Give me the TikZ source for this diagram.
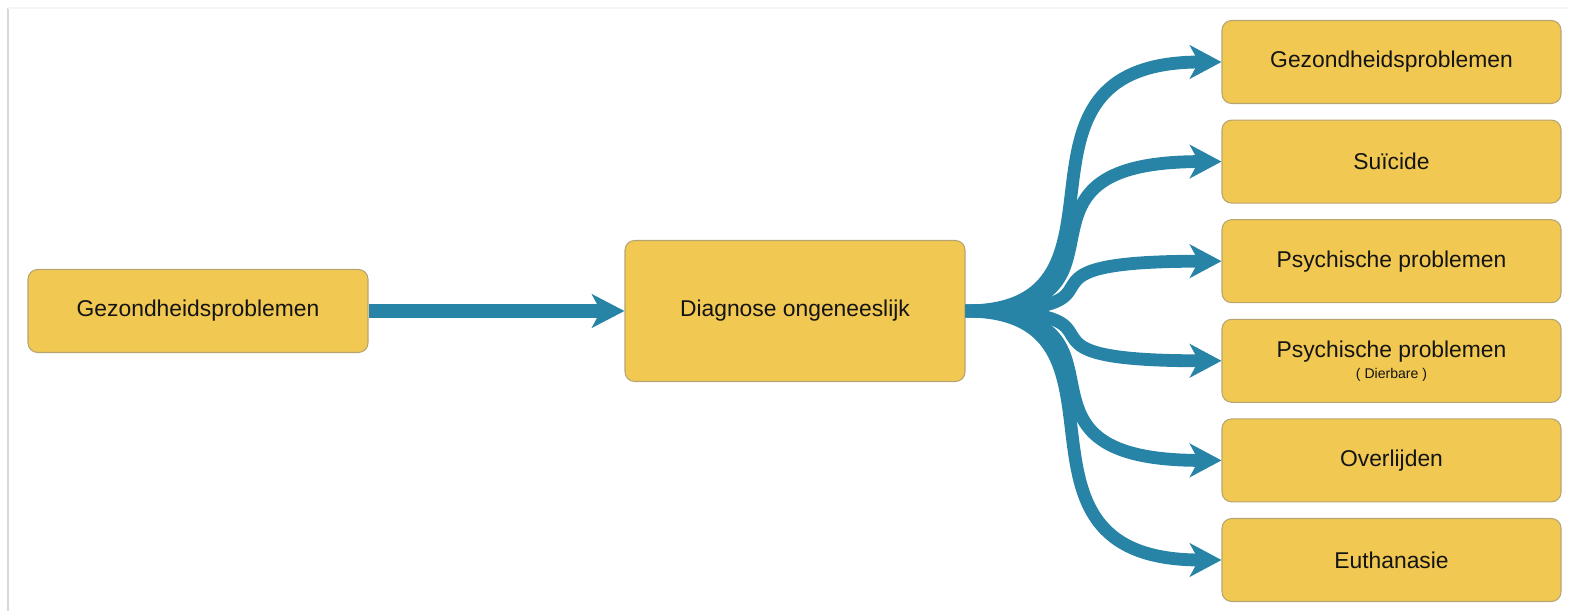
\documentclass[tikz,border=0pt]{standalone}
\usepackage{fontspec}
\setmainfont{Liberation Sans}
\usetikzlibrary{arrows.meta}
\definecolor{honey}{RGB}{240,200,82}
\definecolor{sand}{RGB}{184,164,112}
\definecolor{petrol}{RGB}{40,132,166}
\definecolor{ink}{RGB}{20,20,20}
\tikzset{
  card/.style={draw=sand,fill=honey,rounded corners=5.5pt,line width=0.6pt,
    minimum width=68mm,minimum height=16.6mm,align=center,
    font=\fontsize{13}{15}\selectfont,text=ink},
  trunk/.style={-{Stealth[length=18.5pt,width=19pt,inset=5pt]},line width=8pt,draw=petrol},
  branch/.style={-{Stealth[length=18pt,width=19pt,inset=5pt]},line width=7.3pt,draw=petrol,
    out=0,in=180,out distance=3.8cm,in distance=4.8cm},
}
\begin{document}
\begin{tikzpicture}
  \useasboundingbox (0,0) rectangle (31.38,-12.22);
  \draw[gray!30,line width=0.6pt] (0.16,-0.16) -- (0.16,-12.22);
  \draw[gray!8,line width=0.6pt] (0.16,-0.16) -- (31.38,-0.16);
  \node[card] (cause) at (3.96,-6.22) {Gezondheidsproblemen};
  \node[card,minimum height=28.2mm] (diag) at (15.9,-6.22) {Diagnose ongeneeslijk};
  \draw[trunk] (cause) -- (diag);
  \foreach \t [count=\i] in {Gezondheidsproblemen,Suïcide,Psychische problemen,
      {Psychische problemen\\[-3pt]{\fontsize{8}{10}\selectfont ( Dierbare )}},Overlijden,Euthanasie}{
    \node[card,minimum width=67.8mm] (r\i) at (27.83,{-1.24-1.992*(\i-1)}) {\t};
    \draw[branch] (diag.east) to (r\i.west);
  }
\end{tikzpicture}
\end{document}
